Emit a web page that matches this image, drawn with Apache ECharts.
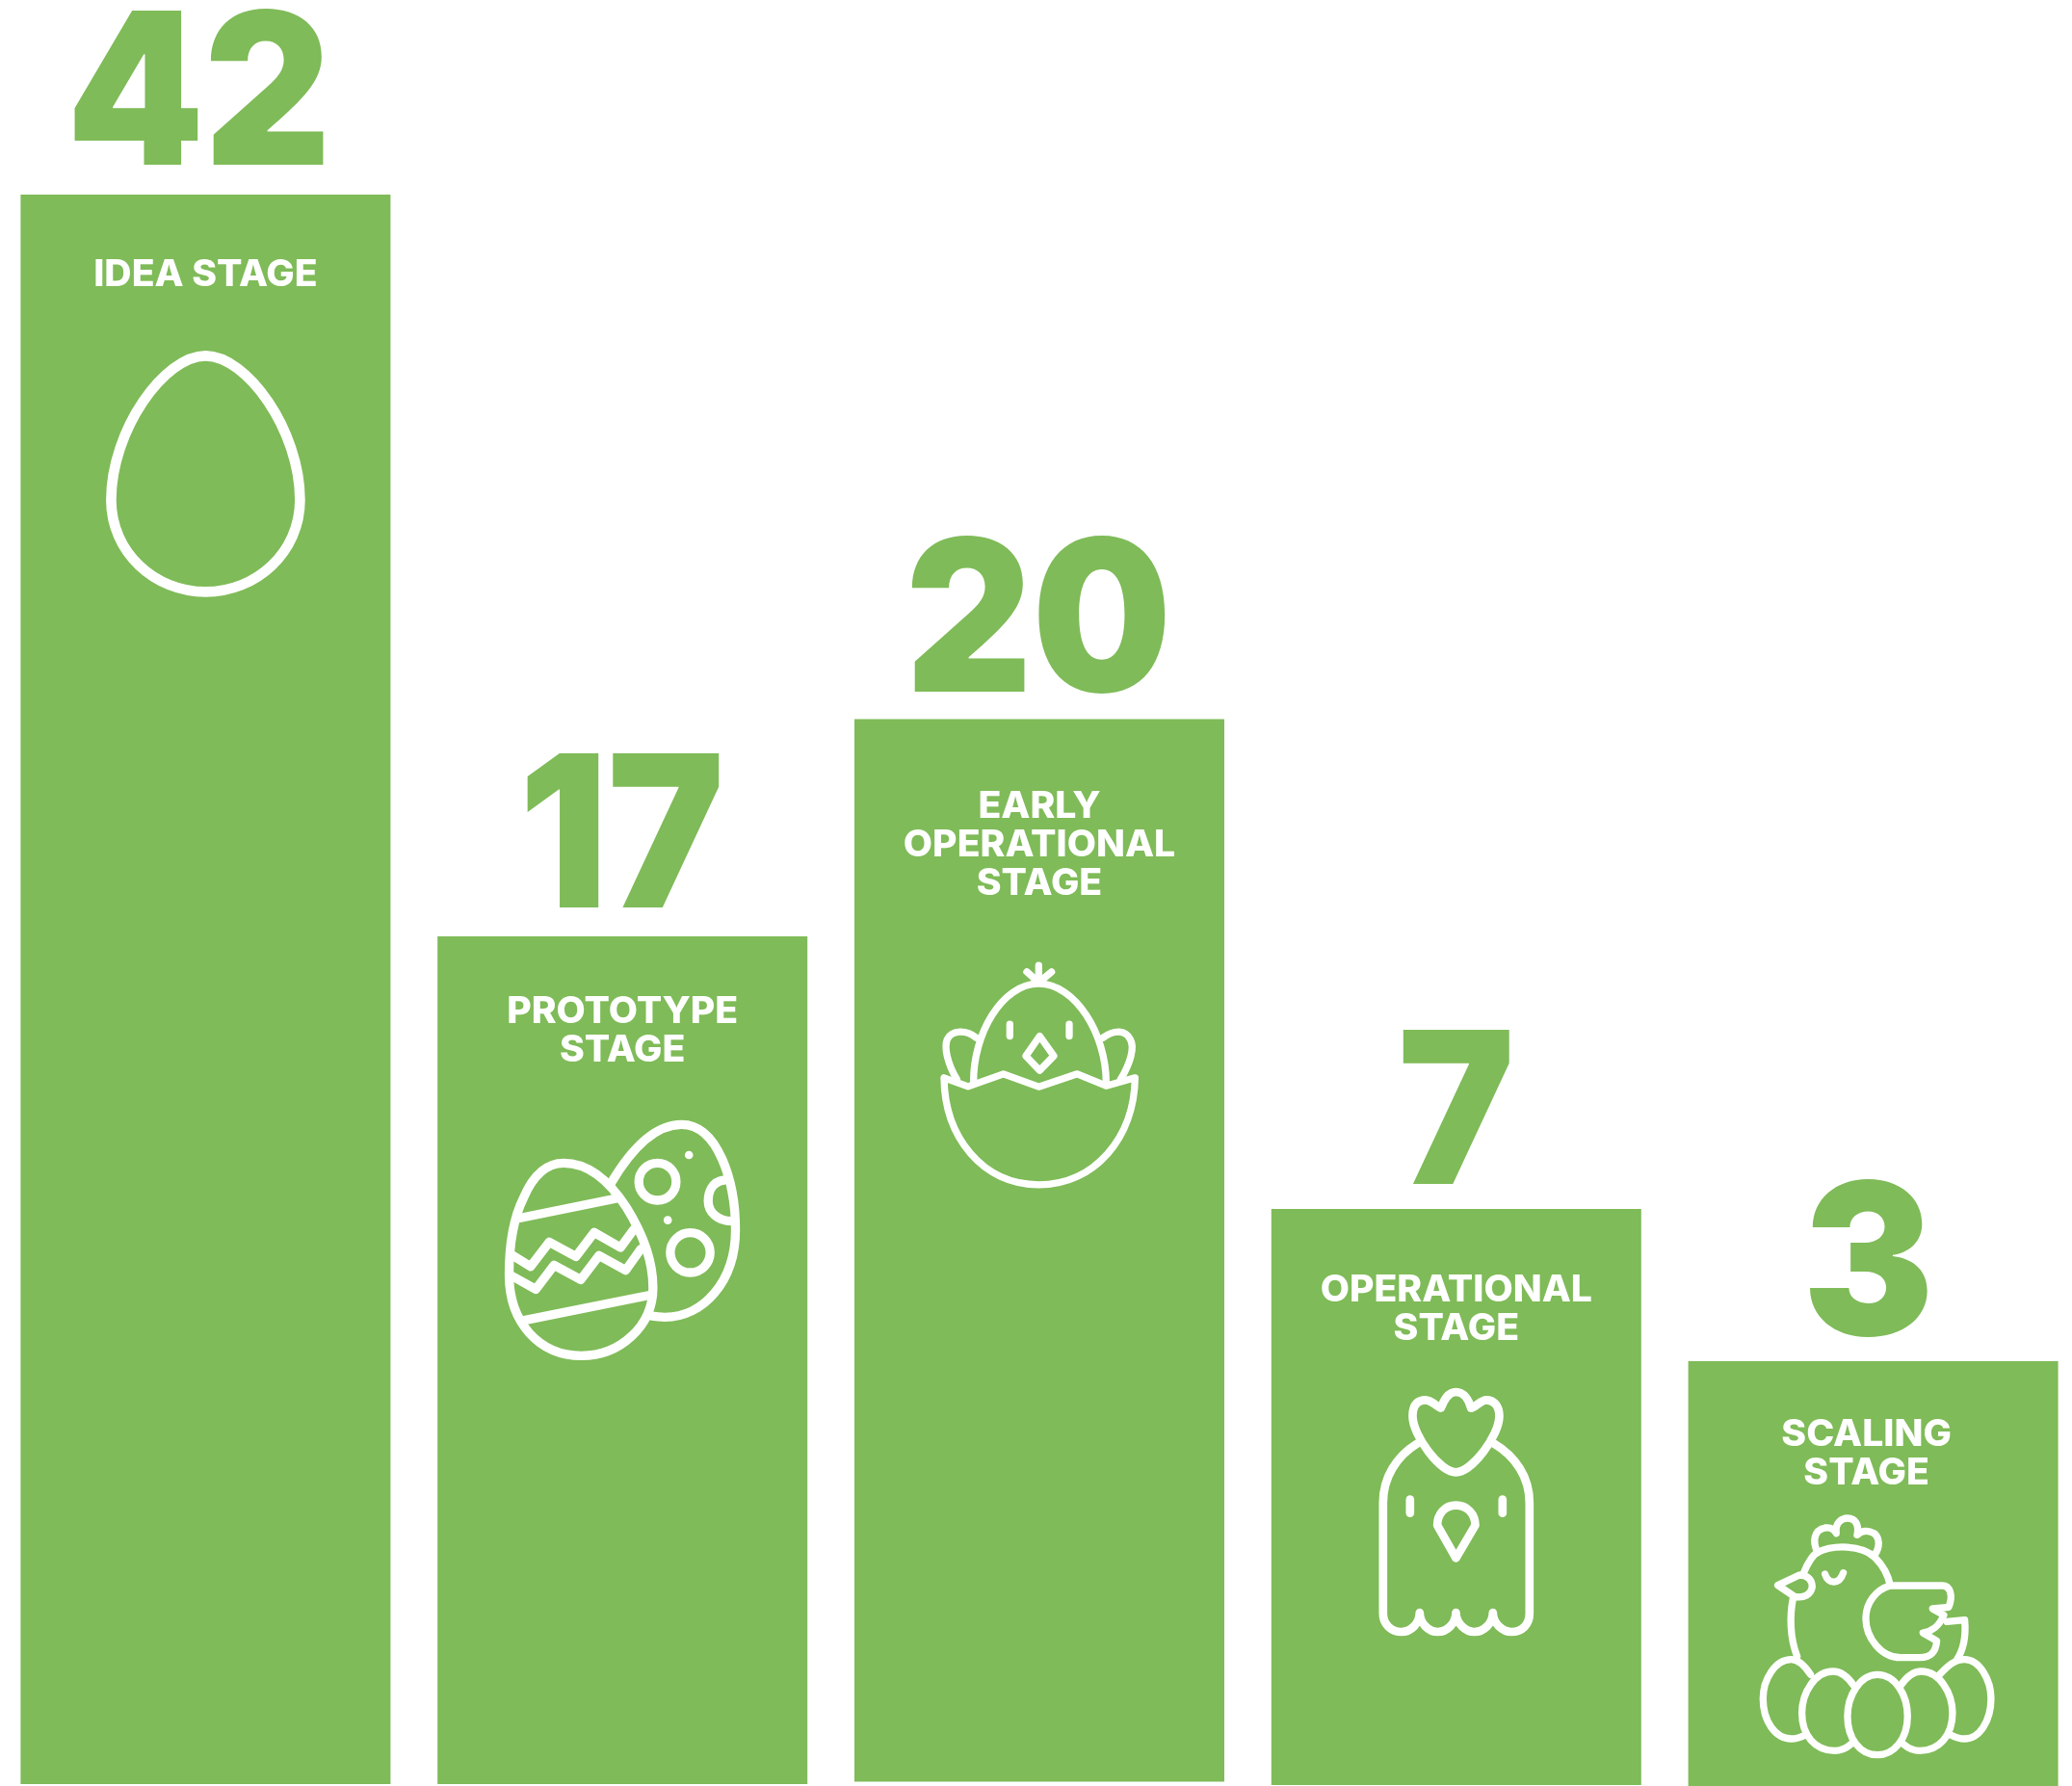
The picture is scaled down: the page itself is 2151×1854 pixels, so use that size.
<!DOCTYPE html>
<html><head><meta charset="utf-8">
<style>html,body{margin:0;padding:0;background:#fff}#c{width:2151px;height:1854px}</style>
<script src="https://cdn.jsdelivr.net/npm/echarts@6/dist/echarts.min.js"></script>
</head><body><div id="c"></div>
<script>
// Data. The printed counts are not proportional to the bar
// heights in this infographic, so heights are kept as their own series (axis units).
const stages = ['IDEA STAGE', 'PROTOTYPE\nSTAGE', 'EARLY\nOPERATIONAL\nSTAGE', 'OPERATIONAL\nSTAGE', 'SCALING\nSTAGE'];
const counts = [42, 17, 20, 7, 3];
const barHeights = [1650, 880, 1103, 598, 441];
const barBases = [2, 2, 4.5, 1, 0];

const GREEN = '#7FBB58';
const labelDx = [0, 0, 0, 0, -7];
const labelDy = [83.5, 98.5, 131.5, 104.5, 96.5];
const numberDx = [-7, -1, -1, 0, -5];
const numberDy = [13, 14, 15, 18, 17];
const iconDx = [-114, -146, -119, -102, -135];
const iconDy = [148, 168, 234, 165, 147];

const icons = [
  {lw: 32, lines: ['M342,58 C470,58 636,290 636,507 C636,670 500,793 342,793 C184,793 48,670 48,507 C48,290 214,58 342,58Z'], rings: [], dots: []},
  {lw: 28, lines: [
    'M255,202 C340,202 405,270 450,340 C500,420 533,500 533,590 C533,710 430,802 310,802 C180,802 85,700 85,550 C85,450 100,370 130,310 C160,240 200,202 255,202Z',
    'M402,265 C470,150 545,82 622,82 C735,82 790,260 790,410 C790,570 690,682 570,682 C555,682 540,680 522,677',
    'M110,375 L420,312', 'M132,692 L515,615',
    'M96,490 L152,524 L210,448 L293,493 L350,418 L432,465 L472,410',
    'M96,555 L168,595 L225,520 L308,565 L365,490 L448,536 L495,470',
    'M755,255 C715,260 705,295 705,320 C705,355 735,383 778,383'],
    rings: [[547,260,58],[649,481,62]], dots: [[645,177,13],[579,380,13]]},
  {lw: 22, lines: [
    'M60,415 C62,600 180,748 355,748 C530,748 653,600 655,415 L565,440 L475,403 L355,443 L245,403 L135,442 L60,415Z',
    'M152,430 C150,280 240,122 355,122 C470,122 565,280 565,430',
    'M100,420 C70,370 60,320 70,295 C85,265 130,265 160,290',
    'M610,420 C640,370 655,320 640,295 C625,265 590,265 555,290',
    'M355,118 L355,65', 'M355,118 L318,85', 'M355,118 L395,85',
    'M265,248 L265,285', 'M450,248 L450,285',
    'M358,285 L402,347 L358,392 L315,347Z'], rings: [], dots: []},
  {lw: 26, lines: [
    'M305,325 C255,325 170,210 170,150 C170,110 190,100 210,100 C230,100 250,125 258,125 C268,100 280,75 305,75 C330,75 345,100 352,125 C365,125 380,100 400,100 C420,100 440,115 440,150 C440,210 355,325 305,325Z',
    'M185,235 C120,275 78,340 78,420 L78,765 C78,800 105,822 135,822 C165,822 192,795 192,762 C192,795 220,822 248,822 C278,822 305,795 305,762 C305,795 335,822 362,822 C392,822 420,795 420,762 C420,795 450,822 478,822 C510,822 534,800 534,765 L534,420 C534,340 490,275 422,235',
    'M162,410 L162,452', 'M450,410 L450,452',
    'M305,592 L247,490 C247,455 270,428 305,428 C340,428 365,455 365,490Z'], rings: [], dots: []},
  {lw: 22, lines: [
    'M232,155 C215,120 220,85 255,78 C275,75 285,85 290,95 C285,60 310,48 325,48 C350,48 362,70 355,100 C375,80 420,85 422,125 C422,140 415,155 408,165',
    'M190,215 C205,180 215,165 230,155 C280,130 370,130 410,170 C435,195 452,225 458,258',
    'M108,257 L175,225 C205,225 215,245 215,262 C212,285 190,298 160,292Z',
    'M155,300 C145,350 145,420 168,478',
    'M255,222 C265,255 300,255 312,218',
    'M458,258 L620,258 C645,258 655,290 640,325 L590,330 L625,350 C610,385 590,400 560,405 L603,430 C600,470 580,482 550,482 L490,482 C430,482 382,420 382,360 C382,310 415,270 458,258',
    'M635,370 L690,365 C695,420 685,460 665,490',
    'M210,535 C190,505 170,488 150,488 C100,488 62,550 62,610 C62,680 100,735 150,735 C165,735 180,730 195,722',
    'M345,570 C325,540 305,525 280,525 C225,525 183,590 183,655 C183,725 225,772 285,772 C300,772 320,765 335,752',
    'M418,535 C475,535 512,600 512,665 C512,735 470,785 418,785 C365,785 325,735 325,665 C325,600 365,535 418,535Z',
    'M490,570 C510,540 530,525 555,525 C610,525 652,590 652,655 C652,725 610,772 550,772 C535,772 515,765 500,752',
    'M612,535 C640,505 660,488 690,488 C735,488 772,550 772,610 C772,680 735,735 690,735 C675,735 660,730 645,722'],
    rings: [], dots: []}
];

function iconChildren(ic) {
  const st = {stroke: '#fff', fill: 'none', lineWidth: ic.lw, lineJoin: 'round', lineCap: 'round'};
  const out = ic.lines.map(d => ({type: 'path', shape: {pathData: d}, style: st}));
  ic.rings.forEach(r => out.push({type: 'circle', shape: {cx: r[0], cy: r[1], r: r[2]}, style: st}));
  ic.dots.forEach(r => out.push({type: 'circle', shape: {cx: r[0], cy: r[1], r: r[2]}, style: {fill: '#fff'}}));
  return out;
}

const chart = echarts.init(document.getElementById('c'), null, {renderer: 'canvas'});
chart.setOption({
  animation: false,
  backgroundColor: '#fff',
  grid: {left: -3, width: 2164, top: 0, height: 1854, containLabel: false, outerBoundsMode: 'none'},
  xAxis: {type: 'category', data: stages, show: false},
  yAxis: {type: 'value', min: 0, max: 1854, show: false},
  series: [
    {type: 'bar', stack: 's', barWidth: 384, silent: true, data: barBases, itemStyle: {color: 'transparent'}},
    {type: 'bar', stack: 's', barWidth: 384, data: barHeights, itemStyle: {color: GREEN}},
    {type: 'custom', clip: false, z: 5, silent: true,
     data: barHeights.map((h, i) => [i, h + barBases[i]]),
     renderItem: (params, api) => {
       const i = api.value(0);
       const pt = api.coord([i, api.value(1)]);
       return {type: 'group', children: [
         {type: 'text', x: pt[0] + numberDx[i], y: pt[1] + numberDy[i], scaleX: 0.925,
          style: {text: String(counts[i]), fill: GREEN, font: '900 220px Inter', align: 'center', verticalAlign: 'bottom', lineHeight: 220}},
         {type: 'text', x: pt[0] + labelDx[i], y: pt[1] + labelDy[i], scaleX: 1.03,
          style: {text: stages[i], fill: '#fff', font: '800 38px Inter', align: 'center', verticalAlign: 'middle', lineHeight: 40}},
         {type: 'group', x: pt[0] + iconDx[i], y: pt[1] + iconDy[i], scaleX: 1/3, scaleY: 1/3, children: iconChildren(icons[i])}
       ]};
     }}
  ]
});
</script></body></html>
